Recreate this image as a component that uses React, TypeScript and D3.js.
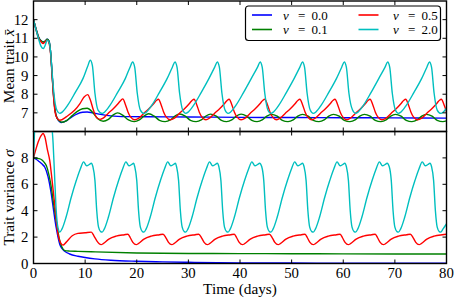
import React from 'react';
import * as d3 from 'd3';

type P = [number, number];

const xTicks = [0, 10, 20, 30, 40, 50, 60, 70, 80];
const meanTicks = [7, 8, 9, 10, 11, 12];
const varTicks = [0, 2, 4, 6, 8];
const nuLabels = ['0.0', '0.1', '0.5', '2.0'];
const colors = ['#0000ff', '#008000', '#ff0000', '#00bfbf'];

const meanNu00: P[] = [[0,12],[0.5,11.5],[1.0,11.05],[1.5,10.85],[1.9,10.8],[2.3,10.85],[2.65,10.95],[3.0,10.85],[3.3,10.3],[3.6,9.1],[3.9,7.9],[4.2,7.1],[4.6,6.7],[5.4,6.48],[6.5,6.6],[7.5,6.8],[8.5,6.95],[9.5,7.03],[10.4,7.05],[11.5,7.0],[13,6.92],[15,6.84],[18,6.8],[22,6.79],[30,6.78],[40,6.76],[50,6.75],[60,6.74],[70,6.73],[80,6.72]];

const meanNu01: P[] = [[0,12],[0.5,11.5],[1.0,11.05],[1.5,10.85],[1.9,10.8],[2.3,10.85],[2.65,10.95],[3.0,10.85],[3.3,10.3],[3.6,9.1],[3.9,7.9],[4.2,7.1],[4.6,6.7],[5.5,6.5],[6.5,6.6],[7.5,6.85],[8.5,7.08],[9.5,7.22],[10.4,7.25],[11.4,7.05],[12.4,6.7],[13.5,6.55],[14.5,6.65],[15.4,6.88],[16.3,7.0],[17.4,6.85],[18.4,6.62],
[19.5,6.53],[20.5,6.62],[21.4,6.83],[22.3,6.95],[23.4,6.82],[24.4,6.6],
[25.5,6.53],[26.5,6.62],[27.4,6.83],[28.3,6.94],[29.4,6.82],[30.4,6.6],
[31.5,6.53],[32.5,6.62],[33.4,6.83],[34.3,6.93],[35.4,6.82],[36.4,6.6],
[37.4,6.53],[38.4,6.62],[39.3,6.83],[40.2,6.93],[41.3,6.82],[42.3,6.6],
[43.3,6.53],[44.3,6.62],[45.2,6.83],[46.1,6.92],[47.2,6.82],[48.2,6.6],
[49.3,6.53],[50.3,6.62],[51.2,6.83],[52.1,6.92],[53.2,6.82],[54.2,6.6],
[55.3,6.53],[56.3,6.62],[57.2,6.83],[58.1,6.92],[59.2,6.82],[60.2,6.6],
[61.3,6.53],[62.3,6.62],[63.2,6.83],[64.1,6.92],[65.2,6.82],[66.2,6.6],
[67.3,6.53],[68.3,6.62],[69.2,6.83],[70.1,6.92],[71.2,6.82],[72.2,6.6],
[73.3,6.53],[74.3,6.62],[75.2,6.83],[76.1,6.92],[77.2,6.82],[78.2,6.6],
[79.3,6.53],[80,6.57]];

const meanNu05: P[] = [[0,12],[0.5,11.45],[1.0,11.0],[1.5,10.8],[1.9,10.72],[2.3,10.82],[2.65,10.9],[3.0,10.75],[3.3,10.2],[3.6,9.0],[3.9,7.8],[4.2,7.0],[4.6,6.7],[5.1,6.6],[6.4,6.8],[8.0,7.15],[9.0,7.5],[9.8,7.85],[10.5,7.98],[11.0,7.7],[11.6,7.15],[12.1,6.8],[12.9,6.65],
[13.5,6.72],[14.45,6.97],[15.45,7.22],[16.45,7.52],[16.95,7.68],[17.3,7.75],[17.8,7.45],[18.3,7.05],[18.8,6.78],[19.6,6.63],
[20.4,6.72],[21.35,6.97],[22.35,7.22],[23.35,7.52],[23.85,7.68],[24.2,7.73],[24.7,7.45],[25.2,7.05],[25.7,6.78],[26.5,6.63],
[27.3,6.72],[28.25,6.97],[29.25,7.22],[30.25,7.52],[30.75,7.68],[31.1,7.73],[31.6,7.45],[32.1,7.05],[32.6,6.78],[33.4,6.63],
[34.1,6.72],[35.05,6.97],[36.05,7.22],[37.05,7.52],[37.55,7.68],[37.9,7.73],[38.4,7.45],[38.9,7.05],[39.4,6.78],[40.2,6.63],
[41.0,6.72],[41.95,6.97],[42.95,7.22],[43.95,7.52],[44.45,7.68],[44.8,7.73],[45.3,7.45],[45.8,7.05],[46.3,6.78],[47.1,6.63],
[47.8,6.72],[48.75,6.97],[49.75,7.22],[50.75,7.52],[51.25,7.68],[51.6,7.73],[52.1,7.45],[52.6,7.05],[53.1,6.78],[53.9,6.63],
[54.6,6.72],[55.55,6.97],[56.55,7.22],[57.55,7.52],[58.05,7.68],[58.4,7.73],[58.9,7.45],[59.4,7.05],[59.9,6.78],[60.7,6.63],
[61.4,6.72],[62.35,6.97],[63.35,7.22],[64.35,7.52],[64.85,7.68],[65.2,7.73],[65.7,7.45],[66.2,7.05],[66.7,6.78],[67.5,6.63],
[68.3,6.72],[69.25,6.97],[70.25,7.22],[71.25,7.52],[71.75,7.68],[72.1,7.73],[72.6,7.45],[73.1,7.05],[73.6,6.78],[74.4,6.63],
[75.2,6.72],[76.15,6.97],[77.15,7.22],[78.15,7.52],[78.65,7.68],[79.0,7.73],[79.5,7.45],[80.0,7.05]];

const meanNu20: P[] = [[0,12.0],[0.5,11.45],[1.0,10.95],[1.5,10.55],[1.9,10.45],[2.3,10.65],[2.65,10.9],[3.0,10.8],[3.3,10.3],[3.6,9.2],[3.9,8.2],[4.2,7.5],[4.6,7.1],[5.1,6.97],
[5.6,7.05],[6.6,7.4],[8.1,8.1],[9.6,8.85],[10.5,9.5],[11.0,9.82],[11.4,9.55],[11.9,8.05],[12.5,7.15],[13.3,6.97],
[13.8,7.05],[14.8,7.4],[16.3,8.1],[17.8,8.85],[18.7,9.45],[19.2,9.73],[19.6,9.45],[20.1,8.05],[20.7,7.15],[21.4,6.97],
[21.9,7.05],[22.9,7.4],[24.4,8.1],[25.9,8.85],[26.9,9.45],[27.4,9.73],[27.8,9.45],[28.3,8.05],[28.9,7.15],[29.5,6.97],
[30.0,7.05],[31.0,7.4],[32.5,8.1],[34.0,8.85],[35.1,9.45],[35.6,9.73],[36.0,9.45],[36.5,8.05],[37.1,7.15],[37.7,6.97],
[38.2,7.05],[39.2,7.4],[40.7,8.1],[42.2,8.85],[43.4,9.45],[43.9,9.73],[44.3,9.45],[44.8,8.05],[45.4,7.15],[46.0,6.97],
[46.5,7.05],[47.5,7.4],[49.0,8.1],[50.5,8.85],[51.6,9.45],[52.1,9.73],[52.5,9.45],[53.0,8.05],[53.6,7.15],[54.2,6.97],
[54.7,7.05],[55.7,7.4],[57.2,8.1],[58.7,8.85],[59.7,9.45],[60.2,9.73],[60.6,9.45],[61.1,8.05],[61.8,7.15],[62.4,6.97],
[62.9,7.05],[63.9,7.4],[65.4,8.1],[66.9,8.85],[68.1,9.45],[68.6,9.73],[69.0,9.45],[69.5,8.05],[70.1,7.15],[70.7,6.97],
[71.2,7.05],[72.2,7.4],[73.7,8.1],[75.2,8.85],[76.2,9.45],[76.7,9.73],[77.1,9.45],[77.6,8.05],[78.2,7.15],[78.9,6.97],
[79.4,7.05],[80,7.25]];

const varNu00: P[] = [[0,8.0],[0.5,7.9],[1.0,7.75],[1.6,7.55],[2.2,7.29],[2.8,6.6],[3.45,5.25],[3.9,4.0],[4.4,2.71],[4.75,2.0],[5.1,1.44],[5.5,1.15],[6.05,0.93],[7,0.72],[8.6,0.55],[10,0.45],[11.9,0.35],[15,0.25],[19.9,0.17],[25,0.12],[30,0.09],[40,0.05],[50,0.035],[60,0.025],[80,0.015]];

const varNu01: P[] = [[0,8.0],[0.5,7.98],[1.0,7.95],[1.5,7.88],[2.0,7.7],[2.5,7.4],[3.0,6.7],[3.45,5.76],[3.9,4.5],[4.4,3.22],[4.75,2.4],[5.1,1.69],[5.5,1.25],[6.05,0.98],[7.0,0.94],[8.6,0.92],[12,0.88],[20,0.8],[30,0.76],[40,0.75],[50,0.74],[60,0.73],[80,0.72]];

const varNu05: P[] = [[0,8.0],[0.5,8.7],[1.0,9.3],[1.5,9.7],[1.85,9.85],[2.2,9.6],[2.7,8.6],[3.15,7.8],[3.6,6.3],[4.1,4.5],[4.75,2.2],[5.2,1.6],[5.7,1.39],[6.3,1.6],[7.5,2.1],[8.6,2.28],[10.0,2.33],[11.2,2.38],[11.7,2.1],[12.3,1.7],[13.1,1.43],
[13.5,1.5],[14.6,1.85],[16.0,2.07],[17.6,2.18],[18.3,2.22],[18.75,1.95],[19.25,1.6],[19.9,1.43],
[20.3,1.5],[21.4,1.85],[22.8,2.07],[24.4,2.18],[25.1,2.22],[25.65,1.95],[26.15,1.6],[26.8,1.43],
[27.2,1.5],[28.3,1.85],[29.7,2.07],[31.3,2.18],[32.0,2.22],[32.55,1.95],[33.05,1.6],[33.7,1.43],
[34.1,1.5],[35.2,1.85],[36.6,2.07],[38.2,2.18],[38.9,2.22],[39.35,1.95],[39.85,1.6],[40.5,1.43],
[40.9,1.5],[42.0,1.85],[43.4,2.07],[45.0,2.18],[45.7,2.22],[46.25,1.95],[46.75,1.6],[47.4,1.43],
[47.8,1.5],[48.9,1.85],[50.3,2.07],[51.9,2.18],[52.6,2.22],[53.05,1.95],[53.55,1.6],[54.2,1.43],
[54.6,1.5],[55.7,1.85],[57.1,2.07],[58.7,2.18],[59.4,2.22],[59.85,1.95],[60.35,1.6],[61.0,1.43],
[61.4,1.5],[62.5,1.85],[63.9,2.07],[65.5,2.18],[66.2,2.22],[66.65,1.95],[67.15,1.6],[67.8,1.43],
[68.2,1.5],[69.3,1.85],[70.7,2.07],[72.3,2.18],[73.0,2.22],[73.55,1.95],[74.05,1.6],[74.7,1.43],
[75.1,1.5],[76.2,1.85],[77.6,2.07],[79.2,2.18],[80,2.22]];

const varNu20: P[] = [[0,8.0],[0.1,9.0],[0.25,10.5],[0.4,12],[3.3,12],[3.55,10.5],[3.8,9.1],[4.1,6.5],[4.4,4.0],[4.75,2.7],[5.1,2.38],
[5.5,2.6],[6.3,3.5],[7.3,5.0],[8.3,6.3],[9.1,7.2],[9.7,7.7],[10.3,7.4],[10.8,7.5],[11.2,7.6],[11.5,7.35],[11.9,6.3],[12.25,4.0],[12.6,2.75],[13.0,2.42],[13.3,2.38],
[13.7,2.6],[14.5,3.5],[15.5,5.0],[16.5,6.3],[17.3,7.2],[17.9,7.7],[18.5,7.4],[19.0,7.5],[19.4,7.6],[19.6,7.35],[20.0,6.3],[20.35,4.0],[20.7,2.75],[21.1,2.42],[21.4,2.38],
[21.8,2.6],[22.6,3.5],[23.6,5.0],[24.6,6.3],[25.4,7.2],[26.0,7.7],[26.6,7.4],[27.1,7.5],[27.5,7.6],[27.7,7.35],[28.1,6.3],[28.45,4.0],[28.8,2.75],[29.2,2.42],[29.5,2.38],
[29.9,2.6],[30.7,3.5],[31.7,5.0],[32.7,6.3],[33.5,7.2],[34.1,7.7],[34.7,7.4],[35.2,7.5],[35.6,7.6],[35.9,7.35],[36.3,6.3],[36.65,4.0],[37.0,2.75],[37.4,2.42],[37.7,2.38],
[38.1,2.6],[38.9,3.5],[39.9,5.0],[40.9,6.3],[41.7,7.2],[42.3,7.7],[42.9,7.4],[43.4,7.5],[43.8,7.6],[44.2,7.35],[44.6,6.3],[44.95,4.0],[45.3,2.75],[45.7,2.42],[46.0,2.38],
[46.4,2.6],[47.2,3.5],[48.2,5.0],[49.2,6.3],[50.0,7.2],[50.6,7.7],[51.2,7.4],[51.7,7.5],[52.1,7.6],[52.4,7.35],[52.8,6.3],[53.15,4.0],[53.5,2.75],[53.9,2.42],[54.2,2.38],
[54.6,2.6],[55.4,3.5],[56.4,5.0],[57.4,6.3],[58.2,7.2],[58.8,7.7],[59.4,7.4],[59.9,7.5],[60.3,7.6],[60.6,7.35],[61.0,6.3],[61.35,4.0],[61.7,2.75],[62.1,2.42],[62.4,2.38],
[62.8,2.6],[63.6,3.5],[64.6,5.0],[65.6,6.3],[66.4,7.2],[67.0,7.7],[67.6,7.4],[68.1,7.5],[68.5,7.6],[68.9,7.35],[69.3,6.3],[69.65,4.0],[70.0,2.75],[70.4,2.42],[70.7,2.38],
[71.1,2.6],[71.9,3.5],[72.9,5.0],[73.9,6.3],[74.7,7.2],[75.3,7.7],[75.9,7.4],[76.4,7.5],[76.8,7.6],[77.1,7.35],[77.5,6.3],[77.85,4.0],[78.2,2.75],[78.6,2.42],[78.9,2.38],
[79.3,2.6],[80,3.0]];

const meanSeries = [meanNu00, meanNu01, meanNu05, meanNu20];
const varSeries = [varNu00, varNu01, varNu05, varNu20];

const FONT = 'Liberation Serif, DejaVu Serif, serif';
const FS = 14.8;
const FSL = 15.3;
const FSLEG = 13;
const L = 33.5, R = 446.5;
const topY0 = 1, midY = 131.5, botY1 = 263.5;

const x = d3.scaleLinear().domain([0, 80]).range([L, R]);
const yMean = d3.scaleLinear().domain([6, 13]).range([midY, topY0]);
const yVar = d3.scaleLinear().domain([0, 10]).range([botY1, midY]);

function Panel({ id, y, series, yTicks, y0, y1, showX }: any) {
  const line = d3.line<P>().x(d => x(d[0])).y(d => y(d[1])).curve(d3.curveMonotoneX);
  const tl = 4;
  return (
    <g>
      <defs>
        <clipPath id={id}>
          <rect x={L} y={y0} width={R - L} height={y1 - y0} />
        </clipPath>
      </defs>
      <g clipPath={`url(#${id})`}>
        {series.map((s: P[], i: number) => (
          <path key={i} d={line(s) || ''} fill="none" stroke={colors[i]} strokeWidth={1.4} strokeLinejoin="round" />
        ))}
      </g>
      {xTicks.map(t => (
        <g key={'xt' + t}>
          <line x1={x(t)} x2={x(t)} y1={y1} y2={y1 - tl} stroke="#000" strokeWidth={1} />
          <line x1={x(t)} x2={x(t)} y1={y0} y2={y0 + tl} stroke="#000" strokeWidth={1} />
          {showX && (
            <text x={x(t)} y={y1 + 14} textAnchor="middle" fontFamily={FONT} fontSize={FS}>{t}</text>
          )}
        </g>
      ))}
      {yTicks.map((t: number) => (
        <g key={'yt' + t}>
          <line x1={L} x2={L + tl} y1={y(t)} y2={y(t)} stroke="#000" strokeWidth={1} />
          <line x1={R} x2={R - tl} y1={y(t)} y2={y(t)} stroke="#000" strokeWidth={1} />
          <text x={L - 5} y={y(t) + 5} textAnchor="end" fontFamily={FONT} fontSize={FS}>{t}</text>
        </g>
      ))}
      <rect x={L} y={y0} width={R - L} height={y1 - y0} fill="none" stroke="#000" strokeWidth={1.4} />
    </g>
  );
}

function Legend() {
  const bx = 245.5, by = 6, bw = 195, bh = 34.5;
  const cols = [252, 358.5];
  const textX = [283, 393];
  const rows = [15, 29.5];
  const order = [[0, 0], [0, 1], [1, 0], [1, 1]];
  return (
    <g>
      <rect x={bx} y={by} width={bw} height={bh} rx={3} ry={3} fill="#fff" stroke="#000" strokeWidth={1.2} />
      {nuLabels.map((lab, i) => {
        const [c, r] = order[i];
        const lx = cols[c];
        const tx = textX[c];
        const ly = rows[r];
        return (
          <g key={lab}>
            <line x1={lx} x2={lx + 20} y1={ly} y2={ly} stroke={colors[i]} strokeWidth={1.6} />
            <text x={tx} y={ly + 4.5} fontFamily={FONT} fontSize={FSLEG} fontStyle="italic">ν</text>
            <text x={tx + 15} y={ly + 4.5} fontFamily={FONT} fontSize={FSLEG}>=</text>
            <text x={tx + 28.5} y={ly + 4.5} fontFamily={FONT} fontSize={FSLEG}>{lab}</text>
          </g>
        );
      })}
    </g>
  );
}

export default function App() {
  return (
    <svg width={454} height={300} style={{ position: 'absolute', left: 0, top: 0, background: '#fff' }}>
      <rect x={0} y={0} width={454} height={300} fill="#fff" />
      <Panel id="clipTop" y={yMean} series={meanSeries} yTicks={meanTicks} y0={topY0} y1={midY} showX={false} />
      <Panel id="clipBot" y={yVar} series={varSeries} yTicks={varTicks} y0={midY} y1={botY1} showX={true} />
      <Legend />
      <text transform={`translate(13.5,${(topY0 + midY) / 2}) rotate(-90)`} textAnchor="middle" fontFamily={FONT} fontSize={FSL}>
        Mean trait <tspan fontStyle="italic">{'x\u0304'}</tspan>
      </text>
      <text transform={`translate(13.5,${(midY + botY1) / 2}) rotate(-90)`} textAnchor="middle" fontFamily={FONT} fontSize={FSL}>
        Trait variance <tspan fontStyle="italic">σ</tspan>
      </text>
      <text x={(L + R) / 2} y={294} textAnchor="middle" fontFamily={FONT} fontSize={FSL}>Time (days)</text>
    </svg>
  );
}
